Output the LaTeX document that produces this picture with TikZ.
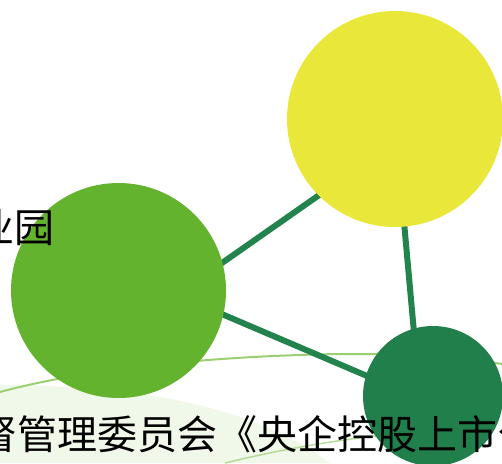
\documentclass[tikz,border=0pt]{standalone}
\usepackage{fontspec}
\newfontfamily\cjkfont{Noto Sans CJK SC}
\usetikzlibrary{backgrounds}
\definecolor{ballyellow}{HTML}{E9E73A}
\definecolor{balllight}{HTML}{63B32F}
\definecolor{balldark}{HTML}{217F4B}
\definecolor{linkgreen}{HTML}{22844C}
\definecolor{swooshgreen}{HTML}{9ACF72}

\begin{document}
\begin{tikzpicture}[
		x=1pt, y=-1pt,
		ball/.style = {circle, inner sep=0pt},
		link/.style = {draw=linkgreen, line width=6pt, shorten <=-4pt, shorten >=-4pt},
		swoosh/.style = {draw=swooshgreen, line width=2pt},
		caption/.style = {inner sep=0pt, font=\cjkfont\fontsize{40}{40}\selectfont}
	]
	\useasboundingbox (0,0) rectangle (502,463);

	% the three balls
	\node[ball, fill=ballyellow, minimum size=216pt] (yellow) at (395,119) {};
	\node[ball, fill=balllight, minimum size=215pt] (light) at (118.5,290.5) {};
	\node[ball, fill=balldark, minimum size=140pt] (dark) at (433,396) {};

	\begin{scope}[on background layer]
		% faint background strokes
		\fill[swooshgreen, opacity=0.15] (0,385) .. controls (150,385) and (260,410) .. (330,463) -- (0,463) -- cycle;
		\draw[swoosh] (0,392) .. controls (80,370) and (200,358) .. (300,355) .. controls (380,352) and (450,356) .. (502,364);
		\draw[swoosh, line width=1.5pt, opacity=0.7] (225,463) .. controls (300,445) and (360,436) .. (440,430);
		% links
		\draw[link] (light.15) -- (yellow.225);
		\draw[link] (light.-13) -- (dark.163);
		\draw[link] (yellow.275) -- (dark.106);
	\end{scope}

	% texts
	\node[caption, anchor=base east] (park) at (55,242) {业园};
	\node[caption, anchor=base west] (notice) at (-23,449) {督管理委员会《央企控股上市公};
\end{tikzpicture}
\end{document}
